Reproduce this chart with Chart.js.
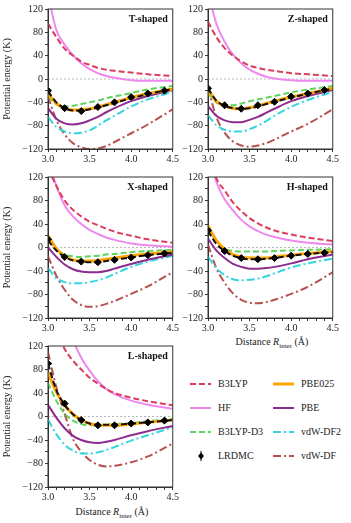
<!DOCTYPE html>
<html>
<head>
<meta charset="utf-8">
<script src="https://cdn.jsdelivr.net/npm/chart.js@4.4.1/dist/chart.umd.min.js"></script>
<style>
body { margin:0; background:#fff; width:351px; height:523px; position:relative; overflow:hidden; font-family:"Liberation Serif", serif; color:#222; }
canvas { position:absolute; }
.xt { position:absolute; font-size:10px; white-space:nowrap; transform:translateX(-50%); }
.lg { position:absolute; font-size:10px; white-space:nowrap; line-height:12px; }
.lg svg { position:absolute; }
</style>
</head>
<body>
<canvas id="cT" width="180" height="163" style="left:0;top:0"></canvas>
<canvas id="cZ" width="160" height="163" style="left:180px;top:0"></canvas>
<canvas id="cX" width="180" height="164" style="left:0;top:168px"></canvas>
<canvas id="cH" width="160" height="164" style="left:180px;top:168px"></canvas>
<canvas id="cL" width="180" height="164" style="left:0;top:337px"></canvas>

<div class="xt" style="left:272px;top:336px">Distance <i>R</i><sub style="font-size:7px">inter</sub> (Å)</div>
<div class="xt" style="left:112px;top:506px">Distance <i>R</i><sub style="font-size:7px">inter</sub> (Å)</div>

<div id="legend"></div>

<script>
// distances (Å) for the curves, and for the LRDMC points
var rGrid = [3.0, 3.1, 3.2, 3.3, 3.4, 3.5, 3.6, 3.7, 3.8, 4.0, 4.2, 4.5];
var rLRDMC = [3.0, 3.2, 3.4, 3.6, 3.8, 4.0, 4.2, 4.4];

// T-shaped
var tB3LYP = [95, 72, 52, 40, 30, 24, 19, 16, 14, 11, 8, 5];
var tHF = [145, 84, 59, 41, 27, 17, 10, 5, 2, -2, -3, -3];
var tD3 = [-30, -43, -47, -46, -43, -40, -37, -33, -30, -24, -18, -12];
var tPBE025 = [-25, -42, -50, -53, -53, -51, -48, -44, -40, -32, -25, -17];
var tFit = [-21, -40, -50, -54, -54, -52, -49, -45, -41, -33, -26, -17];
var tPBE = [-50, -68, -76, -78, -76, -71, -65, -57, -50, -38, -29, -19];
var tDF2 = [-65, -82, -90, -93, -92, -88, -80, -71, -63, -47, -35, -22];
var tDF = [-30, -70, -95, -110, -117, -120, -119, -115, -108, -93, -78, -52];
var tLRDMC = [-20, -50, -55, -48, -40, -31, -25, -20];

// Z-shaped
var zB3LYP = [98, 72, 53, 40, 30, 23, 19, 16, 14, 10, 8, 5];
var zHF = [150, 95, 64, 42, 27, 16, 9, 4, 1, -2, -3, -3];
var zD3 = [-25, -40, -45, -45, -42, -38, -35, -32, -29, -23, -18, -12];
var zPBE025 = [-18, -38, -46, -50, -51, -49, -46, -42, -38, -31, -25, -16];
var zFit = [-16, -37, -46, -50, -51, -50, -47, -43, -39, -32, -25, -17];
var zPBE = [-46, -63, -71, -74, -74, -70, -65, -58, -51, -38, -29, -19];
var zDF2 = [-62, -79, -87, -90, -90, -86, -80, -72, -63, -48, -36, -22];
var zDF = [-15, -65, -92, -107, -114, -116, -114, -110, -104, -90, -77, -52];
var zLRDMC = [-16, -45, -51, -45, -39, -30, -25, -19];

// X-shaped
var xB3LYP = [135, 105, 80, 64, 53, 44, 38, 32, 27, 20, 14, 8];
var xHF = [150, 105, 72, 53, 40, 30, 23, 17, 13, 7, 4, 1];
var xD3 = [18, -2, -12, -15, -16, -15, -14, -12, -11, -8, -6, -4];
var xPBE025 = [20, -2, -15, -21, -23, -23, -22, -20, -18, -14, -11, -7];
var xFit = [12, -5, -16, -22, -24, -25, -25, -23, -21, -17, -13, -9];
var xPBE = [0, -16, -29, -37, -41, -42, -42, -40, -36, -28, -21, -12];
var xDF2 = [-35, -52, -59, -61, -61, -59, -56, -51, -45, -33, -24, -14];
var xDF = [-15, -48, -72, -89, -98, -101, -100, -96, -91, -79, -66, -42];
var xLRDMC = [14, -16, -24, -25, -21, -17, -13, -10];

// H-shaped
var hB3LYP = [165, 118, 97, 77, 62, 50, 41, 34, 29, 22, 17, 11];
var hHF = [165, 112, 82, 63, 47, 36, 28, 22, 18, 12, 8, 5];
var hD3 = [30, 10, -2, -6, -7, -7, -7, -7, -6, -5, -4, -3];
var hPBE025 = [37, 12, -3, -12, -16, -18, -18, -18, -16, -13, -10, -7];
var hFit = [28, 6, -6, -14, -18, -20, -20, -19, -18, -14, -11, -8];
var hPBE = [15, -5, -18, -28, -33, -36, -36, -35, -33, -27, -20, -12];
var hDF2 = [-16, -35, -47, -54, -56, -55, -53, -49, -44, -34, -27, -19];
var hDF = [5, -35, -60, -78, -89, -94, -95, -93, -89, -79, -67, -42];
var hLRDMC = [29, -6, -18, -20, -18, -14, -11, -9];

// L-shaped
var lB3LYP = [175, 145, 115, 95, 80, 66, 56, 47, 40, 32, 26, 19];
var lHF = [280, 215, 165, 130, 100, 78, 60, 47, 38, 27, 20, 13];
var lD3 = [57, 27, 5, -7, -13, -15, -15, -14, -13, -11, -8, -4];
var lPBE025 = [75, 42, 19, 4, -6, -12, -15, -15, -15, -13, -10, -6];
var lFit = [90, 45, 20, 4, -6, -12, -14, -14, -14, -12, -10, -6];
var lPBE = [20, -2, -20, -33, -40, -44, -45, -43, -40, -32, -25, -16];
var lDF2 = [-5, -30, -48, -58, -63, -63, -61, -57, -52, -41, -32, -18];
var lDF = [110, 50, 5, -38, -60, -74, -82, -85, -84, -78, -68, -46];
var lLRDMC = [90, 22, -6, -15, -15, -12, -10, -7];

var FONT = '"Liberation Serif", serif';

// method: label, colour, dash, width, draw order (lower = on top)
var methods = {
  b3lyp: ['B3LYP', '#dc3d5c', [6, 3], 2, 8],
  hf: ['HF', '#ee88ee', [], 2, 9],
  d3: ['B3LYP-D3', '#5fd35f', [6, 3], 2, 5],
  pbe025: ['PBE025', '#ffa500', [], 3, 4],
  fit: ['LRDMC', '#111111', [6, 3], 2, 1],
  pbe: ['PBE', '#8e2b8e', [], 2, 6],
  df2: ['vdW-DF2', '#33d6dc', [8, 3, 2, 3], 2, 7],
  df: ['vdW-DF', '#b5524f', [8, 3, 2, 3], 2, 10]
};

function lineDs(key, ys) {
  var m = methods[key];
  return {
    type: 'line', label: m[0],
    data: rGrid.map(function(r, i) { return {x: r, y: ys[i]}; }),
    borderColor: m[1], borderDash: m[2], borderWidth: m[3], order: m[4],
    pointRadius: 0, fill: false, cubicInterpolationMode: 'monotone'
  };
}

var framePlugin = {
  id: 'panelFrame',
  afterDatasetsDraw: function(chart, args, opts) {
    var a = chart.chartArea, c = chart.ctx;
    c.save();
    c.strokeStyle = '#333';
    c.lineWidth = 1;
    c.strokeRect(a.left, a.top, a.right - a.left, a.bottom - a.top);
    c.font = 'bold 10px ' + FONT;
    c.textAlign = 'right';
    c.textBaseline = 'middle';
    c.fillStyle = '#111';
    c.fillText(opts.label, a.right - 5, a.top + 10);
    c.restore();
  }
};

function makePanel(id, label, left, s) {
  var datasets = [
    {type: 'scatter', label: 'LRDMC pts', data: rLRDMC.map(function(r, i) { return {x: r, y: s.pts[i]}; }),
     pointStyle: 'rectRot', pointRadius: 3.5, backgroundColor: '#000', borderColor: '#000', borderWidth: 1, order: 0},
    lineDs('fit', s.fit),
    lineDs('pbe025', s.pbe025),
    lineDs('d3', s.d3),
    lineDs('pbe', s.pbe),
    lineDs('df2', s.df2),
    lineDs('b3lyp', s.b3lyp),
    lineDs('hf', s.hf),
    lineDs('df', s.df),
    {type: 'line', label: 'zero', data: [{x: 3.0, y: 0}, {x: 4.5, y: 0}],
     borderColor: '#999', borderWidth: 0.7, borderDash: [2, 2], pointRadius: 0, order: 20}
  ];
  new Chart(document.getElementById(id), {
    type: 'line',
    data: {datasets: datasets},
    plugins: [framePlugin],
    options: {
      responsive: false,
      animation: false,
      layout: {padding: {top: 9, right: left ? 2 : 3, left: 0, bottom: 0}},
      plugins: {legend: {display: false}, tooltip: {enabled: false}, panelFrame: {label: label}},
      scales: {
        x: {
          type: 'linear', min: 3.0, max: 4.5,
          afterFit: function(sc) { sc.height = 14; },
          grid: {drawOnChartArea: false, tickLength: 3, color: '#333'},
          border: {color: '#333'},
          ticks: {
            stepSize: 0.1, autoSkip: false, maxRotation: 0, padding: 1, color: '#222',
            font: {family: FONT, size: 10},
            callback: function(v) { return Math.abs(v * 2 - Math.round(v * 2)) < 1e-6 ? v.toFixed(1) : ''; }
          }
        },
        y: {
          min: -120, max: 120,
          afterFit: function(sc) { sc.width = left ? 48 : 28; },
          grid: {drawOnChartArea: false, tickLength: 3, color: '#333'},
          border: {color: '#333'},
          title: {display: left, text: 'Potential energy (K)', color: '#222', font: {family: FONT, size: 10}, padding: {top: 1, bottom: 0}},
          ticks: {
            stepSize: 20, autoSkip: false, padding: 2, color: '#222',
            font: {family: FONT, size: 10},
            callback: function(v) {
              if (v % 40 !== 0) return '';
              return v < 0 ? '\u2212' + (-v) : '' + v;
            }
          }
        }
      }
    }
  });
}

makePanel('cT', 'T-shaped', true, {b3lyp: tB3LYP, hf: tHF, d3: tD3, pbe025: tPBE025, fit: tFit, pbe: tPBE, df2: tDF2, df: tDF, pts: tLRDMC});
makePanel('cZ', 'Z-shaped', false, {b3lyp: zB3LYP, hf: zHF, d3: zD3, pbe025: zPBE025, fit: zFit, pbe: zPBE, df2: zDF2, df: zDF, pts: zLRDMC});
makePanel('cX', 'X-shaped', true, {b3lyp: xB3LYP, hf: xHF, d3: xD3, pbe025: xPBE025, fit: xFit, pbe: xPBE, df2: xDF2, df: xDF, pts: xLRDMC});
makePanel('cH', 'H-shaped', false, {b3lyp: hB3LYP, hf: hHF, d3: hD3, pbe025: hPBE025, fit: hFit, pbe: hPBE, df2: hDF2, df: hDF, pts: hLRDMC});
makePanel('cL', 'L-shaped', true, {b3lyp: lB3LYP, hf: lHF, d3: lD3, pbe025: lPBE025, fit: lFit, pbe: lPBE, df2: lDF2, df: lDF, pts: lLRDMC});

// legend, two columns
var legendRows = [['b3lyp', 'pbe025'], ['hf', 'pbe'], ['d3', 'df2'], ['pts', 'df']];
var lg = document.getElementById('legend');
legendRows.forEach(function(row, ri) {
  row.forEach(function(key, ci) {
    var y = 384 + ri * 24;
    var sx = ci === 0 ? 190 : 273;
    var div = document.createElement('div');
    div.className = 'lg';
    div.style.left = sx + 'px';
    div.style.top = (y - 6) + 'px';
    var svg;
    if (key === 'pts') {
      svg = '<svg width="22" height="12" style="left:0;top:0"><line x1="11" y1="1" x2="11" y2="11" stroke="#000" stroke-width="1"/>' +
            '<polygon points="11,2.5 14,6 11,9.5 8,6" fill="#000"/></svg>';
      div.innerHTML = svg + '<span style="position:absolute;left:28px">LRDMC</span>';
    } else {
      var m = methods[key];
      svg = '<svg width="22" height="12" style="left:0;top:0"><line x1="0" y1="6" x2="21" y2="6" stroke="' + m[1] +
            '" stroke-width="' + m[3] + '" stroke-dasharray="' + m[2].join(',') + '"/></svg>';
      div.innerHTML = svg + '<span style="position:absolute;left:28px">' + m[0] + '</span>';
    }
    lg.appendChild(div);
  });
});
</script>
</body>
</html>
